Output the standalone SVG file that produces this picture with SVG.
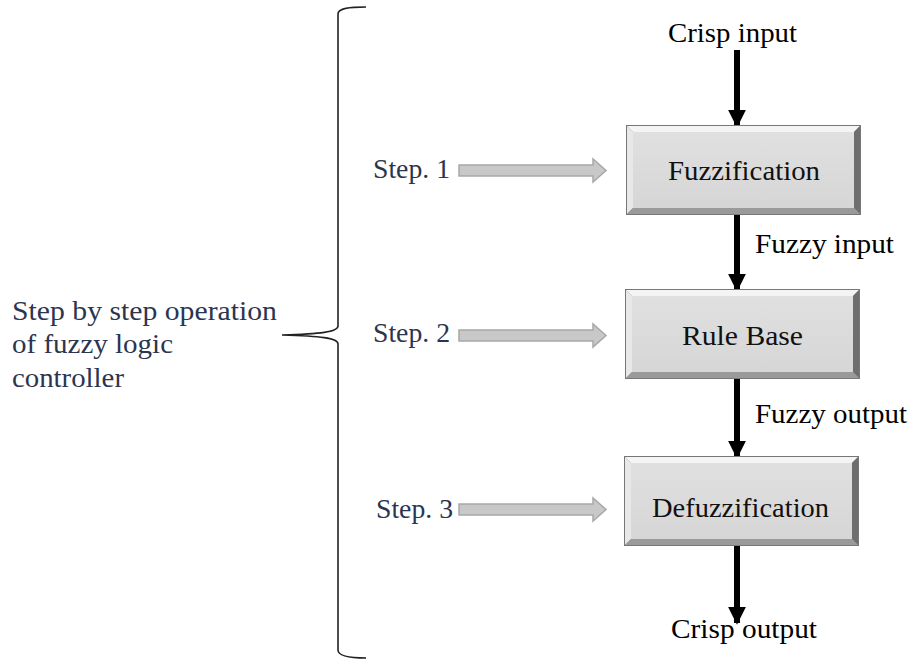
<svg xmlns="http://www.w3.org/2000/svg" width="912" height="659" viewBox="0 0 912 659">
<style>
text{font-family:'Liberation Serif','Times New Roman','DejaVu Serif',serif;font-size:27px}
.lbl{fill:#2b3550}
.blk{fill:#000}
.box{fill:#111}
.conn{stroke:#000;stroke-width:6;fill:none}
.garrow{fill:#c8c8c8;stroke:#a8a8a8;stroke-width:1.5}
</style>
<defs>
<marker id="ah" viewBox="0 0 10 10" refX="9" refY="5" markerWidth="3" markerHeight="3" orient="auto" markerUnits="strokeWidth">
<path d="M0,0 L10,5 L0,10 Z" fill="#000"/>
</marker>
<linearGradient id="face" x1="0" y1="0" x2="0" y2="1">
<stop offset="0" stop-color="#e0e0e0"/>
<stop offset="1" stop-color="#d6d6d6"/>
</linearGradient>
<g id="bevel">
<rect x="0" y="0" width="235" height="90" fill="#8a8a8a"/>
<polygon points="0,0 235,0 228,7 7,7" fill="#f4f4f4"/>
<polygon points="0,0 7,7 7,83 0,90" fill="#e8e8e8"/>
<polygon points="235,0 235,90 228,83 228,7" fill="#6e6e6e"/>
<polygon points="0,90 235,90 228,83 7,83" fill="#9a9a9a"/>
<rect x="7" y="7" width="221" height="76" fill="url(#face)"/>
<rect x="0.5" y="0.5" width="234" height="89" fill="none" stroke="#777" stroke-width="1"/>
</g>
</defs>

<g id="connectors">
<line class="conn" x1="737" y1="50" x2="737" y2="126" marker-end="url(#ah)"/>
<line class="conn" x1="737" y1="214" x2="737" y2="290" marker-end="url(#ah)"/>
<line class="conn" x1="737" y1="379" x2="737" y2="457" marker-end="url(#ah)"/>
<line class="conn" x1="737" y1="546" x2="737" y2="623" marker-end="url(#ah)"/>
<polygon class="garrow" points="459,165 593,165 593,159 606,170.5 593,182 593,176 459,176"/>
<polygon class="garrow" points="459,330 593,330 593,324 606,335.5 593,347 593,341 459,341"/>
<polygon class="garrow" points="459,504 593,504 593,498 606,509.5 593,521 593,515 459,515"/>
</g>

<g id="brace">
<path d="M366,7 C350,7 338,8 338,14 L338,326 C338,332 320,334 282,335 C320,336 338,338 338,344 L338,650 C338,656 350,658 366,658" fill="none" stroke="#222" stroke-width="1.6"/>
</g>

<g id="node-fuzzification">
<use href="#bevel" x="626" y="125"/>
<text class="box" x="668" y="180" textLength="152" lengthAdjust="spacingAndGlyphs">Fuzzification</text>
</g>
<g id="node-rulebase">
<use href="#bevel" x="625" y="289"/>
<text class="box" x="682" y="345" textLength="121" lengthAdjust="spacingAndGlyphs">Rule Base</text>
</g>
<g id="node-defuzzification">
<use href="#bevel" x="624" y="456"/>
<text class="box" x="652" y="517" textLength="177" lengthAdjust="spacingAndGlyphs">Defuzzification</text>
</g>

<g id="labels">
<text class="blk" x="668" y="42" textLength="129" lengthAdjust="spacingAndGlyphs">Crisp input</text>
<text class="blk" x="755" y="253" textLength="139" lengthAdjust="spacingAndGlyphs">Fuzzy input</text>
<text class="blk" x="755" y="423" textLength="152" lengthAdjust="spacingAndGlyphs">Fuzzy output</text>
<text class="blk" x="671" y="638" textLength="146" lengthAdjust="spacingAndGlyphs">Crisp output</text>
<text class="lbl" x="373" y="178" textLength="77" lengthAdjust="spacingAndGlyphs">Step. 1</text>
<text class="lbl" x="373" y="342" textLength="77" lengthAdjust="spacingAndGlyphs">Step. 2</text>
<text class="lbl" x="376" y="518" textLength="77" lengthAdjust="spacingAndGlyphs">Step. 3</text>
<text class="lbl" x="12" y="320" textLength="265" lengthAdjust="spacingAndGlyphs">Step by step operation</text>
<text class="lbl" x="12" y="353" textLength="161" lengthAdjust="spacingAndGlyphs">of fuzzy logic</text>
<text class="lbl" x="12" y="387" textLength="112" lengthAdjust="spacingAndGlyphs">controller</text>
</g>
</svg>
